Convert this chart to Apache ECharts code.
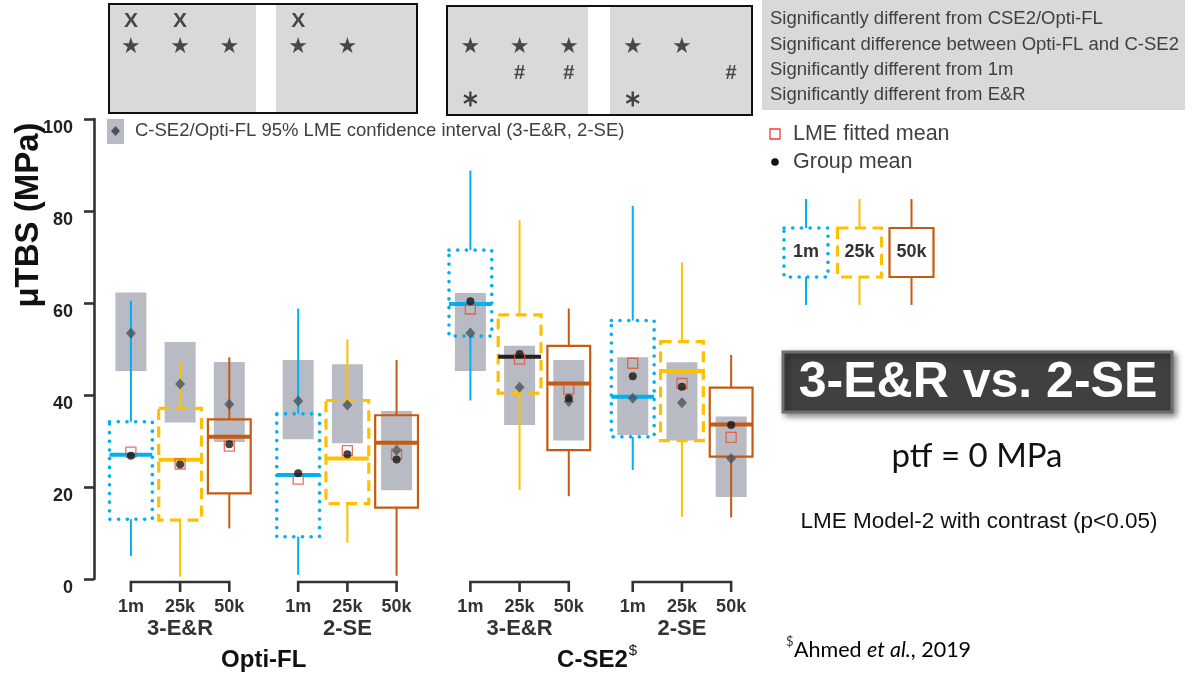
<!DOCTYPE html>
<html>
<head>
<meta charset="utf-8">
<script src="https://cdn.jsdelivr.net/npm/echarts@6/dist/echarts.min.js"></script>
<style>
  html, body { margin: 0; padding: 0; background: #fff; }
  #chart { width: 1192px; height: 677px; }
</style>
</head>
<body>
<div id="chart"></div>
<script>
// ---- Groups ----
const materials = ['Opti-FL', 'C-SE2'];
const protocols = ['3-E&R', '2-SE'];
const cycles = ['1m', '25k', '50k'];

// ---- μTBS box statistics (MPa), ordered:
// Opti-FL 3-E&R (1m, 25k, 50k), Opti-FL 2-SE, C-SE2 3-E&R, C-SE2 2-SE
const whiskerLow  = [5.0, 0.5, 11.0, 0.9, 7.9, 0.7, 38.8, 19.3, 18.0, 23.7, 13.5, 13.4];
const q1          = [13.0, 12.8, 18.6, 9.2, 16.4, 15.5, 52.8, 40.4, 28.0, 30.9, 30.1, 26.6];
const median      = [27.0, 25.9, 30.9, 22.6, 26.2, 29.6, 59.8, 48.3, 42.5, 39.6, 45.2, 33.6];
const q3          = [34.2, 37.1, 34.7, 35.9, 38.8, 35.6, 71.5, 57.4, 50.7, 56.2, 51.6, 41.6];
const whiskerHigh = [60.5, 47.4, 48.2, 58.8, 52.1, 47.6, 88.8, 78.0, 58.8, 81.1, 68.8, 48.7];
const groupMean   = [26.8, 24.9, 29.3, 23.0, 27.1, 26.0, 60.4, 48.9, 39.3, 44.1, 41.8, 33.5];
const lmeMean     = [27.6, 25.0, 28.9, 21.7, 27.9, 27.1, 58.7, 47.8, 41.3, 46.9, 42.5, 30.8];

// ---- C-SE2/Opti-FL 95% LME confidence interval ----
const ciLow  = [45.2, 34.0, 29.8, 30.4, 29.5, 19.3, 45.2, 33.5, 30.1, 31.3, 30.1, 17.8];
const ciHigh = [62.3, 51.5, 47.2, 47.6, 46.7, 36.5, 62.2, 50.7, 47.6, 48.2, 47.1, 35.3];
const ciMean = [53.4, 42.4, 38.0, 38.7, 37.8, 28.0, 53.5, 41.7, 38.6, 39.3, 38.3, 26.2];

// ---- Significance flags (1 = marked) ----
const sigVsRef     = [1, 1, 0, 1, 0, 0, 0, 0, 0, 0, 0, 0]; // X
const sigBetween   = [1, 1, 1, 1, 1, 0, 1, 1, 1, 1, 1, 0]; // ★
const sigVs1m      = [0, 0, 0, 0, 0, 0, 0, 1, 1, 0, 0, 1]; // #
const sigVsER      = [0, 0, 0, 0, 0, 0, 1, 0, 0, 1, 0, 0]; // *
const sigLegend = [
  'Significantly different from CSE2/Opti-FL',
  'Significant difference between Opti-FL and C-SE2',
  'Significantly different from 1m',
  'Significantly different from E&R'
];

// ---- Y axis ----
const yMin = 0, yMax = 100, yStep = 20;

// ---- layout helpers ----
const subgroupStart = [0, 3.4, 6.9, 10.2];   // x offset of each material/protocol block
const xPos = i => subgroupStart[Math.floor(i / 3)] + (i % 3);
const idx = whiskerLow.map((_, i) => i);
const BOX_W = 0.87, CI_W = 0.63;

const BLUE = '#00b0f0', GOLD = '#ffc000', RUST = '#c55a11';
const boxColor = [BLUE, GOLD, RUST];
const boxEdge = [
  { lineWidth: 3.6, lineDash: [0.1, 8.6], lineCap: 'round' },
  { lineWidth: 3.2, lineDash: [11, 6.5], lineCap: 'butt' },
  { lineWidth: 2.2 }
];
const darkMedianIndex = 7;
const CI_FILL = '#b8bbc3', DIAMOND = '#4a545d', LME_RED = '#e0532e';
const FONT = '"Liberation Sans", Arial, sans-serif';

function boxItem(params, api) {
  const x = api.value(0);
  const k = api.value(6);
  const kind = k % 3;
  const color = boxColor[kind];
  const half = api.size([BOX_W, 0])[0] / 2;
  const cx = api.coord([x, 0])[0];
  const Y = v => api.coord([x, v])[1];
  const yLo = Y(api.value(1)), yQ1 = Y(api.value(2)), yMed = Y(api.value(3));
  const yQ3 = Y(api.value(4)), yHi = Y(api.value(5));
  return {
    type: 'group',
    children: [
      { type: 'line', shape: { x1: cx, y1: yHi, x2: cx, y2: yQ3 }, style: { stroke: color, lineWidth: 2 } },
      { type: 'line', shape: { x1: cx, y1: yQ1, x2: cx, y2: yLo }, style: { stroke: color, lineWidth: 2 } },
      { type: 'rect', shape: { x: cx - half, y: yQ3, width: 2 * half, height: yQ1 - yQ3 },
        style: Object.assign({ fill: 'none', stroke: color }, boxEdge[kind]) },
      { type: 'line', shape: { x1: cx - half, y1: yMed, x2: cx + half, y2: yMed },
        style: { stroke: k === darkMedianIndex ? '#222' : color, lineWidth: 4 } }
    ]
  };
}

function ciItem(params, api) {
  const x = api.value(0);
  const half = api.size([CI_W, 0])[0] / 2;
  const lo = api.coord([x, api.value(1)]);
  const hi = api.coord([x, api.value(2)]);
  return { type: 'rect', shape: { x: lo[0] - half, y: hi[1], width: 2 * half, height: lo[1] - hi[1] },
           style: { fill: CI_FILL } };
}

function txt(text, x, y, size, weight, color, align, family, vAlign) {
  return { type: 'text', x: x, y: y,
    style: { text: text, fontSize: size, fontWeight: weight || 'normal', fontFamily: family || FONT,
             fill: color || '#222', align: align || 'center', textAlign: align || 'center',
             verticalAlign: vAlign || 'middle', textVerticalAlign: vAlign || 'middle' } };
}

function bracketItem(params, api) {
  const s = api.value(1);
  const start = api.value(0);
  const p0 = api.coord([start, 0]), p1 = api.coord([start + 1, 0]), p2 = api.coord([start + 2, 0]);
  const y0 = p0[1];
  const ln = { stroke: '#333', lineWidth: 2.6, fill: 'none' };
  const children = [
    { type: 'polyline', shape: { points: [[p0[0], y0 + 13], [p0[0], y0 + 3], [p2[0], y0 + 3], [p2[0], y0 + 13]] }, style: ln },
    { type: 'line', shape: { x1: p1[0], y1: y0 + 3, x2: p1[0], y2: y0 + 13 }, style: ln }
  ];
  [p0, p1, p2].forEach((p, j) => children.push(txt(cycles[j], p[0], y0 + 28, 18, 'bold', '#333')));
  children.push(txt(protocols[s % 2], p1[0], y0 + 50, 22, 'bold', '#333'));
  return { type: 'group', children: children };
}

function materialItem(params, api) {
  const m = api.value(1);
  const p = api.coord([api.value(0), 0]);
  const y = p[1] + 81;
  if (m === 0) return txt(materials[0], p[0], y, 24, 'bold', '#111');
  return { type: 'group', children: [
    txt(materials[1], p[0] + 27, y, 24, 'bold', '#111', 'right'),
    txt('$', p[0] + 28, y - 9, 15, 'normal', '#111', 'left')
  ]};
}

// significance marks shown in the top panels
const markRows = [sigVsRef, sigBetween, sigVs1m, sigVsER];
const markText = ['X', '★', '#', null];
const markSize = [21, 22, 20, 0];
const asteriskPath = 'path://M8.4,0 L11.6,0 L11.6,20 L8.4,20 Z ' +
  'M0.54,6.39 L2.14,3.61 L19.46,13.61 L17.86,16.39 Z ' +
  'M2.14,16.39 L0.54,13.61 L17.86,3.61 L19.46,6.39 Z';

const sigSeries = markRows.map((row, r) => {
  const data = idx.filter(i => row[i]).map(i => [xPos(i), r]);
  if (markText[r] === null) {
    return { type: 'scatter', xAxisIndex: 1, yAxisIndex: 1, data: data, symbol: asteriskPath,
             symbolSize: [14, 15], itemStyle: { color: '#1a1a1a' }, silent: true };
  }
  return { type: 'scatter', xAxisIndex: 1, yAxisIndex: 1, data: data, symbolSize: 1,
           itemStyle: { color: 'rgba(0,0,0,0)' }, silent: true,
           label: { show: true, position: 'inside', formatter: markText[r], color: '#222',
                    fontSize: markSize[r], fontWeight: 'bold',
                    fontFamily: r === 1 ? '"DejaVu Sans", sans-serif' : FONT } };
});

const groupCenters = [[(subgroupStart[0] + subgroupStart[1] + 2) / 2, 0],
                      [(subgroupStart[2] + subgroupStart[3] + 2) / 2, 1]];

// legend box icons
function legendBox(cx, kind, label) {
  const color = boxColor[kind];
  return [
    { type: 'line', shape: { x1: cx, y1: 199, x2: cx, y2: 228 }, style: { stroke: color, lineWidth: 2 } },
    { type: 'line', shape: { x1: cx, y1: 277, x2: cx, y2: 305 }, style: { stroke: color, lineWidth: 2 } },
    { type: 'rect', shape: { x: cx - 22, y: 228, width: 44, height: 49 },
      style: Object.assign({ fill: 'none', stroke: color }, boxEdge[kind]) },
    txt(label, cx, 252, 18, 'bold', '#333')
  ];
}

const graphics = [
  // significance panels
  { type: 'rect', shape: { x: 109, y: 4, width: 308, height: 109 }, style: { fill: '#d9d9d9', stroke: '#111', lineWidth: 2 }, z: -10 },
  { type: 'rect', shape: { x: 256, y: 5, width: 20, height: 107 }, style: { fill: '#fff' }, z: -9 },
  { type: 'rect', shape: { x: 447, y: 6, width: 305, height: 109 }, style: { fill: '#d9d9d9', stroke: '#111', lineWidth: 2 }, z: -10 },
  { type: 'rect', shape: { x: 588, y: 7, width: 22, height: 107 }, style: { fill: '#fff' }, z: -9 },
  { type: 'rect', shape: { x: 762, y: 0, width: 423, height: 110 }, style: { fill: '#d9d9d9' }, z: -10 },
  txt(sigLegend[0], 770, 19, 18.5, 'normal', '#404040', 'left'),
  txt(sigLegend[1], 770, 45, 18.5, 'normal', '#404040', 'left'),
  txt(sigLegend[2], 770, 70, 18.5, 'normal', '#404040', 'left'),
  txt(sigLegend[3], 770, 95, 18.5, 'normal', '#404040', 'left'),
  // CI legend
  { type: 'rect', shape: { x: 107, y: 119, width: 17, height: 25 }, style: { fill: CI_FILL } },
  { type: 'polygon', shape: { points: [[115.5, 126], [120, 131], [115.5, 136], [111, 131]] }, style: { fill: DIAMOND } },
  txt('C-SE2/Opti-FL 95% LME confidence interval (3-E&R, 2-SE)', 135, 131, 18.5, 'normal', '#404040', 'left'),
  // mean legend
  { type: 'rect', shape: { x: 770, y: 129, width: 10, height: 10 }, style: { fill: 'none', stroke: '#f03c3c', lineWidth: 1.3 } },
  txt('LME fitted mean', 793, 134, 21.5, 'normal', '#404040', 'left'),
  { type: 'circle', shape: { cx: 775, cy: 162, r: 3.8 }, style: { fill: '#111' } },
  txt('Group mean', 793, 162, 21.5, 'normal', '#404040', 'left'),
  // y axis title
  { type: 'text', x: 29, y: 215, rotation: Math.PI / 2,
    style: { text: 'μTBS (MPa)', fontSize: 33, fontWeight: 'bold', fontFamily: FONT, fill: '#111',
             align: 'center', textAlign: 'center', verticalAlign: 'middle', textVerticalAlign: 'middle' } },
  // comparison banner
  { type: 'rect', shape: { x: 783, y: 352, width: 389, height: 60 },
    style: { fill: '#404040', stroke: '#6e6e6e', lineWidth: 3, shadowBlur: 6, shadowColor: 'rgba(0,0,0,0.45)',
             shadowOffsetX: 3, shadowOffsetY: 3 } },
  txt('3-E&R vs. 2-SE', 978, 383, 50, 'bold', '#ffffff'),
  txt('ptf = 0 MPa', 977, 456, 33, 'normal', '#111', 'center', 'Lato, "Open Sans", sans-serif'),
  txt('LME Model-2 with contrast (p<0.05)', 979, 522, 22.5, 'normal', '#111'),
  txt('$', 786, 642, 13, 'normal', '#333', 'left', 'Lato, sans-serif'),
  { type: 'text', x: 794, y: 650,
    style: { text: '{n|Ahmed }{i|et al.}{n|, 2019}', align: 'left', textAlign: 'left',
             verticalAlign: 'middle', textVerticalAlign: 'middle',
             rich: { n: { fontSize: 21.5, fontFamily: 'Lato, sans-serif', color: '#333' },
                     i: { fontSize: 21.5, fontFamily: 'Lato, sans-serif', fontStyle: 'italic', color: '#333' } } } }
].concat(legendBox(806, 0, '1m'), legendBox(859.5, 1, '25k'), legendBox(911.5, 2, '50k'));

const chart = echarts.init(document.getElementById('chart'), null, { renderer: 'canvas' });
chart.setOption({
  animation: false,
  backgroundColor: '#ffffff',
  grid: [
    { left: 94, top: 119, width: 676.5, height: 460 },
    { left: 94, top: 8, width: 676.5, height: 104 }
  ],
  xAxis: [
    { type: 'value', gridIndex: 0, min: -0.75, max: 13, show: false },
    { type: 'value', gridIndex: 1, min: -0.75, max: 13, show: false }
  ],
  yAxis: [
    { type: 'value', gridIndex: 0, min: yMin, max: yMax, interval: yStep,
      axisLine: { show: true, onZero: false, lineStyle: { color: '#333', width: 2.6 } },
      axisTick: { show: true, length: 10, lineStyle: { color: '#333', width: 2.6 } },
      axisLabel: { color: '#222', fontSize: 18, fontWeight: 'bold', fontFamily: FONT, margin: 21,
                   verticalAlign: 'top' },
      splitLine: { show: false } },
    { type: 'category', gridIndex: 1, data: ['x', 'star', 'hash', 'ast'], inverse: true, show: false }
  ],
  graphic: graphics,
  series: [
    { type: 'custom', renderItem: ciItem, clip: false, silent: true,
      data: idx.map(i => [xPos(i), ciLow[i], ciHigh[i]]) },
    { type: 'custom', renderItem: boxItem, clip: false, silent: true,
      data: idx.map(i => [xPos(i), whiskerLow[i], q1[i], median[i], q3[i], whiskerHigh[i], i]) },
    { type: 'scatter', symbol: 'diamond', symbolSize: [10, 11], itemStyle: { color: DIAMOND }, silent: true,
      data: idx.map(i => [xPos(i), ciMean[i]]) },
    { type: 'scatter', symbol: 'rect', symbolSize: 10, silent: true,
      itemStyle: { color: 'rgba(0,0,0,0)', borderColor: LME_RED, borderWidth: 1.3 },
      data: idx.map(i => [xPos(i), lmeMean[i]]) },
    { type: 'scatter', symbol: 'circle', symbolSize: 8, itemStyle: { color: '#151515' }, silent: true,
      data: idx.map(i => [xPos(i), groupMean[i]]) },
    { type: 'custom', renderItem: bracketItem, clip: false, silent: true,
      data: subgroupStart.map((s, j) => [s, j]) },
    { type: 'custom', renderItem: materialItem, clip: false, silent: true,
      data: groupCenters }
  ].concat(sigSeries)
});
</script>
</body>
</html>
